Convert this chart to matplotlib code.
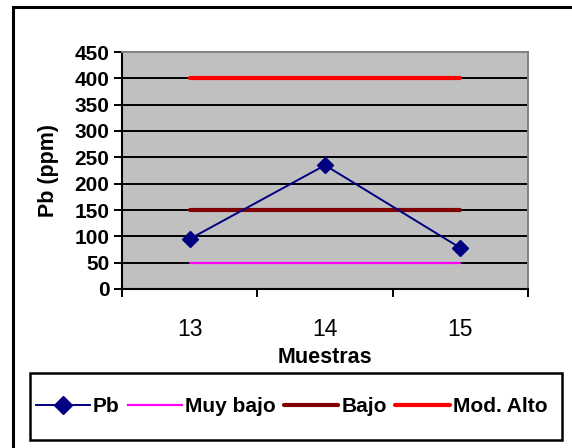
import matplotlib.pyplot as plt
from matplotlib.patches import Rectangle
from matplotlib.lines import Line2D

# Lead content per sample and reference levels
muestras = ['13', '14', '15']
pb = [95, 235, 78]
muy_bajo = [50, 50, 50]
bajo = [150, 150, 150]
mod_alto = [400, 400, 400]
y_ticks = [0, 50, 100, 150, 200, 250, 300, 350, 400, 450]

plt.rcParams['font.family'] = ['Liberation Sans', 'DejaVu Sans']

W, H = 572, 448
fig = plt.figure(figsize=(W / 100, H / 100), dpi=100)

# plot area in pixel terms
left, right, top, bottom = 122, 528, 52, 289
ax = fig.add_axes([left / W, 1 - bottom / H, (right - left) / W, (bottom - top) / H])
ax.set_facecolor('#c0c0c0')

x = range(len(muestras))
ax.set_xlim(-0.5, len(muestras) - 0.5)
ax.set_ylim(0, 450)

for y in y_ticks[1:-1]:
    ax.axhline(y, color='black', linewidth=1.4, zorder=1)

ax.plot(x, muy_bajo, color='#ff00ff', linewidth=1.6, solid_capstyle='round', zorder=2)
ax.plot(x, bajo, color='#800000', linewidth=3.0, solid_capstyle='round', zorder=2)
ax.plot(x, mod_alto, color='#ff0000', linewidth=3.0, solid_capstyle='round', zorder=2)
ax.plot(x, pb, color='#000080', linewidth=1.4, marker='D', markersize=8.5, zorder=3)

ax.set_yticks(y_ticks)
ax.set_yticklabels([str(v) for v in y_ticks], fontsize=15, fontweight='bold')
ax.set_xticks([i for i in x])
ax.set_xticklabels(muestras, fontsize=16.5)
ax.set_xticks([-0.5, 0.5, 1.5, 2.5], minor=True)
ax.tick_params(axis='x', which='major', length=0, pad=21)
ax.tick_params(axis='x', which='minor', length=6, width=1.4, direction='out')
ax.tick_params(axis='y', length=6, width=1.4, direction='out', pad=3)

for side in ['top', 'right']:
    ax.spines[side].set_color('#808080')
    ax.spines[side].set_linewidth(1.4)
for side in ['left', 'bottom']:
    ax.spines[side].set_color('black')
    ax.spines[side].set_linewidth(1.5)

ax.set_xlabel('Muestras', fontsize=15.5, fontweight='bold', labelpad=4)
ax.set_ylabel('Pb (ppm)', fontsize=15.5, fontweight='bold', labelpad=11)

# outer chart border
fig.patches.append(Rectangle((13 / W, -0.1), 1.0, 1 - 7 / H + 0.1, transform=fig.transFigure,
                             fill=False, edgecolor='black', linewidth=2.2))

# legend box
lx0, lx1, ly0, ly1 = 30, 562, 373, 440
fig.patches.append(Rectangle((lx0 / W, 1 - ly1 / H), (lx1 - lx0) / W, (ly1 - ly0) / H,
                             transform=fig.transFigure, fill=False, edgecolor='black', linewidth=1.8))

handles = [
    Line2D([], [], color='#000080', linewidth=1.4, marker='D', markersize=9),
    Line2D([], [], color='#ff00ff', linewidth=1.6),
    Line2D([], [], color='#800000', linewidth=3.0, solid_capstyle='round'),
    Line2D([], [], color='#ff0000', linewidth=3.0, solid_capstyle='round'),
]
fig.legend(handles, ['Pb', 'Muy bajo', 'Bajo', 'Mod. Alto'], loc='center',
           bbox_to_anchor=((lx0 + lx1) / 2 / W - 0.008, 1 - (ly0 + ly1) / 2 / H),
           ncol=4, frameon=False, prop={'size': 15, 'weight': 'bold'},
           handlelength=2.6, handletextpad=0.15, columnspacing=0.4, borderpad=0)

fig.savefig('out.png', dpi=100)
